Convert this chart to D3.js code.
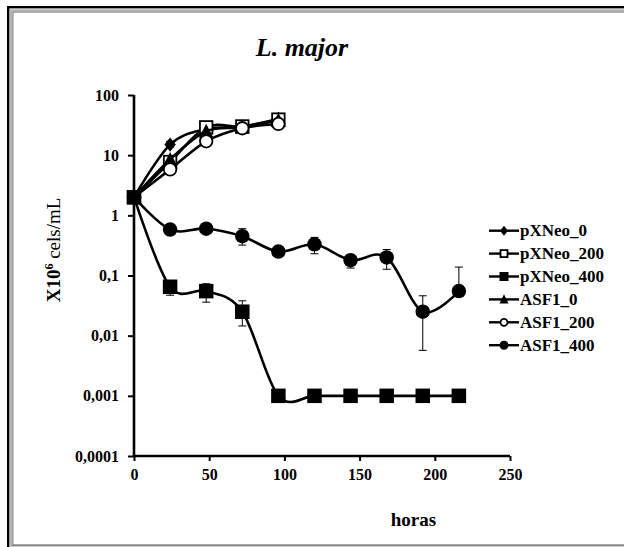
<!DOCTYPE html>
<html>
<head>
<meta charset="utf-8">
<script src="https://cdn.jsdelivr.net/npm/d3@7"></script>
<style>
  html, body { margin: 0; padding: 0; background: #fff; }
  svg { display: block; }
</style>
</head>
<body>
<svg id="chart" width="624" height="547"></svg>
<script>
// Growth curves of L. major (x10^6 cells/mL over time in hours)
const hours = [0, 24, 48, 72, 96, 120, 144, 168, 192, 216];
const seriesNames = ["pXNeo_0", "pXNeo_200", "pXNeo_400", "ASF1_0", "ASF1_200", "ASF1_400"];
const pXNeo_0   = [2, 15, 27, 30, 40];
const pXNeo_200 = [2, 7.7, 29, 30, 39];
const pXNeo_400 = [2, 0.065, 0.055, 0.025, 0.001, 0.001, 0.001, 0.001, 0.001, 0.001];
const ASF1_0    = [2, 8.5, 25, 29, 38];
const ASF1_200  = [2, 5.8, 17, 28, 33];
const ASF1_400  = [2, 0.58, 0.6, 0.45, 0.25, 0.33, 0.18, 0.2, 0.025, 0.055];
// error bar limits [low, high] per time point (null = none shown)
const pXNeo_400_err = [null, [0.047, 0.075], [0.036, 0.073], [0.0145, 0.038], null, null, null, null, null, null];
const ASF1_400_err  = [null, null, null, [0.32, 0.6], null, [0.23, 0.43], [0.133, 0.22], [0.127, 0.27], [0.0057, 0.046], [0.055, 0.138]];
const pXNeo_0_err   = [null, [13.5, 17], null, [28, 33], [36, 44]];
const yTicks = [0.0001, 0.001, 0.01, 0.1, 1, 10, 100];
const yTickLabels = ["0,0001", "0,001", "0,01", "0,1", "1", "10", "100"];
const xTicks = [0, 50, 100, 150, 200, 250];

const FONT = "'Liberation Serif', 'Times New Roman', serif";
const svg = d3.select("#chart");

// outer frame
svg.append("rect").attr("x", 8.2).attr("y", 7.2).attr("width", 640).attr("height", 560)
  .attr("fill", "none").attr("stroke", "#000").attr("stroke-width", 2.4);
svg.append("rect").attr("x", 11).attr("y", 10.3).attr("width", 640).attr("height", 535.4)
  .attr("fill", "none").attr("stroke", "#b5b5b5").attr("stroke-width", 2);
svg.append("rect").attr("x", 12.9).attr("y", 12).attr("width", 640).attr("height", 533)
  .attr("fill", "none").attr("stroke", "#555").attr("stroke-width", 0.9);

const x = d3.scaleLinear().domain([0, 250]).range([134, 510]);
const y = d3.scaleLog().domain([0.0001, 100]).range([456, 95]);

// axes
const yAxis = d3.axisLeft(y).tickValues(yTicks).tickSize(6).tickPadding(9)
  .tickFormat((d, i) => yTickLabels[i]);
const gy = svg.append("g").attr("transform", "translate(134,0)").call(yAxis);
const xAxis = d3.axisBottom(x).tickValues(xTicks).tickSize(5).tickPadding(8);
const gx = svg.append("g").attr("transform", "translate(0,456)").call(xAxis);
[gx, gy].forEach(g => {
  g.attr("font-family", FONT).attr("font-size", 16);
  g.select(".domain").attr("stroke", "#000").attr("stroke-width", 2.6);
  g.selectAll(".tick line").attr("stroke", "#000").attr("stroke-width", 2);
  g.selectAll(".tick text").attr("font-weight", "bold").attr("fill", "#000");
});
gy.select(".domain").attr("d", "M-0,456V95");
gx.select(".domain").attr("d", "M134,0H510");

// titles
svg.append("text").attr("x", 302).attr("y", 56).attr("text-anchor", "middle")
  .attr("font-family", FONT).attr("font-size", 26).attr("font-weight", "bold")
  .attr("font-style", "italic").text("L. major");
svg.append("text").attr("x", 413.5).attr("y", 525.5).attr("text-anchor", "middle")
  .attr("font-family", FONT).attr("font-size", 19).attr("font-weight", "bold").text("horas");
const yl = svg.append("text").attr("transform", "translate(60,250) rotate(-90)")
  .attr("text-anchor", "middle").attr("font-family", FONT).attr("font-size", 19);
yl.append("tspan").attr("font-weight", "bold").text("X10");
yl.append("tspan").attr("font-weight", "bold").attr("font-size", 12).attr("dy", -7).text("6");
yl.append("tspan").attr("dy", 7).text(" cels/mL");

const series = [
  { name: "pXNeo_0", values: pXNeo_0, err: pXNeo_0_err, marker: "diamond" },
  { name: "pXNeo_200", values: pXNeo_200, err: null, marker: "squareOpen" },
  { name: "ASF1_0", values: ASF1_0, err: null, marker: "triangle" },
  { name: "ASF1_200", values: ASF1_200, err: null, marker: "circleOpen" },
  { name: "pXNeo_400", values: pXNeo_400, err: pXNeo_400_err, marker: "square" },
  { name: "ASF1_400", values: ASF1_400, err: ASF1_400_err, marker: "circle" }
];

const line = d3.line().x(d => x(d[0])).y(d => y(d[1])).curve(d3.curveCardinal.tension(0));

function drawMarker(g, type, cx, cy, s) {
  if (type === "square") {
    g.append("rect").attr("x", cx - s / 2).attr("y", cy - s / 2).attr("width", s).attr("height", s).attr("fill", "#000");
  } else if (type === "squareOpen") {
    g.append("rect").attr("x", cx - s / 2 + 1).attr("y", cy - s / 2 + 1).attr("width", s - 2).attr("height", s - 2)
      .attr("fill", "#fff").attr("stroke", "#000").attr("stroke-width", 1.8);
  } else if (type === "circle") {
    g.append("circle").attr("cx", cx).attr("cy", cy).attr("r", s / 2).attr("fill", "#000");
  } else if (type === "circleOpen") {
    g.append("circle").attr("cx", cx).attr("cy", cy).attr("r", s / 2 - 1)
      .attr("fill", "#fff").attr("stroke", "#000").attr("stroke-width", 1.8);
  } else if (type === "triangle") {
    const h = s * 0.9;
    g.append("path").attr("d", `M${cx},${cy - h / 2 - 1}L${cx + s / 2},${cy + h / 2}L${cx - s / 2},${cy + h / 2}Z`).attr("fill", "#000");
  } else if (type === "diamond") {
    const r = s * 0.55;
    g.append("path").attr("d", `M${cx},${cy - r}L${cx + r * 0.8},${cy}L${cx},${cy + r}L${cx - r * 0.8},${cy}Z`).attr("fill", "#000");
  }
}

const plot = svg.append("g");
series.forEach(s => {
  const pts = s.values.map((v, i) => [hours[i], v]);
  const g = plot.append("g");
  if (s.err) {
    s.err.forEach((e, i) => {
      if (!e || i >= pts.length) return;
      const cx = x(hours[i]);
      g.append("line").attr("x1", cx).attr("x2", cx).attr("y1", y(e[0])).attr("y2", y(e[1]))
        .attr("stroke", "#000").attr("stroke-width", 1);
      [e[0], e[1]].forEach(v => g.append("line").attr("x1", cx - 4).attr("x2", cx + 4)
        .attr("y1", y(v)).attr("y2", y(v)).attr("stroke", "#000").attr("stroke-width", 1));
    });
  }
  g.append("path").datum(pts).attr("d", line).attr("fill", "none")
    .attr("stroke", "#000").attr("stroke-width", 2.6);
  const size = (s.marker === "diamond") ? 13 : 14.5;
  pts.forEach(p => drawMarker(g, s.marker, x(p[0]), y(p[1]), size));
});

// legend
const legendMarkers = { pXNeo_0: "diamond", pXNeo_200: "squareOpen", pXNeo_400: "square", ASF1_0: "triangle", ASF1_200: "circleOpen", ASF1_400: "circle" };
const legend = svg.append("g");
seriesNames.forEach((n, i) => {
  const ly = 230.7 + i * 22.9;
  legend.append("line").attr("x1", 489).attr("x2", 519).attr("y1", ly).attr("y2", ly)
    .attr("stroke", "#000").attr("stroke-width", 2.4);
  drawMarker(legend, legendMarkers[n], 504, ly, 9);
  legend.append("text").attr("x", 520).attr("y", ly + 5.5).attr("font-family", FONT)
    .attr("font-size", 17).attr("font-weight", "bold").text(n);
});
</script>
</body>
</html>
